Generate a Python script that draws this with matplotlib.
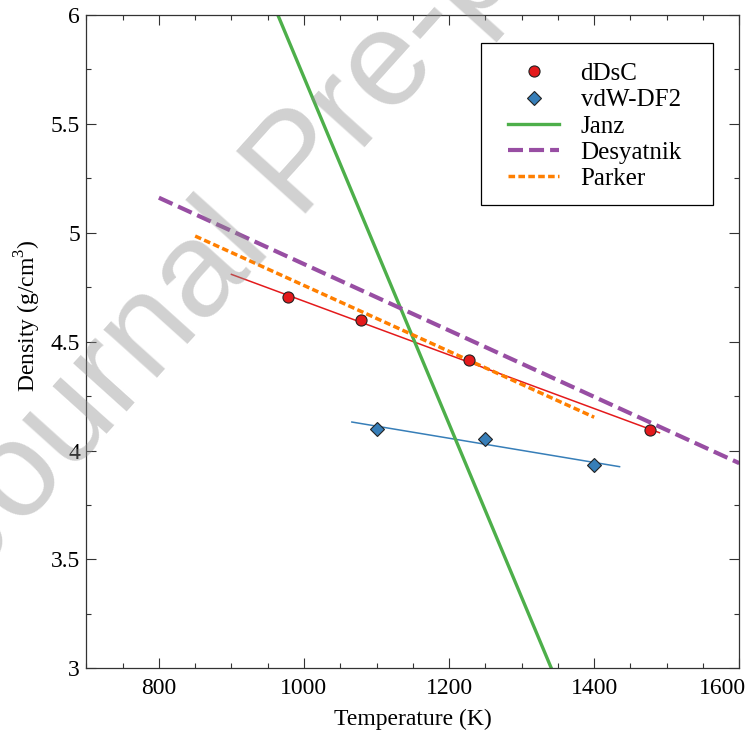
import matplotlib
matplotlib.use('Agg')
import matplotlib.pyplot as plt
import matplotlib.transforms as mtransforms
from matplotlib.patches import Rectangle
from matplotlib.ticker import MultipleLocator

plt.rcParams['font.family'] = ['Liberation Serif', 'DejaVu Serif']
plt.rcParams['mathtext.fontset'] = 'custom'
plt.rcParams['mathtext.rm'] = 'Liberation Serif'
plt.rcParams['font.size'] = 17

# DFT points
ddsc_T   = [978, 1078, 1227, 1477]
ddsc_rho = [4.703, 4.601, 4.414, 4.095]
ddsc_fit_T   = [900, 1490]
ddsc_fit_rho = [4.809, 4.082]

vdw_T   = [1100, 1250, 1400]
vdw_rho = [4.099, 4.052, 3.934]
vdw_fit_T   = [1066, 1435]
vdw_fit_rho = [4.131, 3.926]

# experimental fits
janz_T   = [964, 1341]
janz_rho = [6.0, 3.0]
desy_T   = [800, 1600]
desy_rho = [5.161, 3.942]
park_T   = [850, 1400]
park_rho = [4.985, 4.153]

red, blue, green, purple, orange = '#e41a1c', '#377eb8', '#4daf4a', '#984ea3', '#ff7f00'

fig = plt.figure(figsize=(7.5, 7.35), dpi=100)
ax = fig.add_axes([0.1151, 0.0907, 0.8706, 0.8889])

ax.plot(ddsc_fit_T, ddsc_fit_rho, color=red, lw=1.1)
ax.plot(vdw_fit_T, vdw_fit_rho, color=blue, lw=1.1)
ax.plot(ddsc_T, ddsc_rho, 'o', color=red, mec='#222222', mew=0.8, ms=8, label='dDsC', zorder=5)
ax.plot(vdw_T, vdw_rho, 'D', color=blue, mec='#222222', mew=0.8, ms=7, label='vdW-DF2', zorder=5)
ax.plot(janz_T, janz_rho, color=green, lw=2.4, label='Janz')
l, = ax.plot(desy_T, desy_rho, color=purple, lw=3.0, label='Desyatnik')
l.set_dashes((3.6, 1.45))
l, = ax.plot(park_T, park_rho, color=orange, lw=2.5, label='Parker')
l.set_dashes((1.9, 0.95))

ax.set_xlim(700, 1600)
ax.set_ylim(3, 6)
ax.xaxis.set_minor_locator(MultipleLocator(50))
ax.yaxis.set_minor_locator(MultipleLocator(0.25))
ax.set_xticks([800, 1000, 1200, 1400, 1600])
ax.set_xticklabels(['800', '1000', '1200', '1400', '1600'])
ax.set_yticks([3, 3.5, 4, 4.5, 5, 5.5, 6])
ax.set_yticklabels(['3', '3.5', '4', '4.5', '5', '5.5', '6'])
ax.tick_params(which='both', direction='in', top=True, right=True, width=0.8, color='#333333')
ax.tick_params(which='major', length=7.2)
ax.tick_params(which='minor', length=3.6)
ax.tick_params(axis='x', pad=7)
ax.tick_params(axis='y', pad=4.5)
for s in ax.spines.values():
    s.set_linewidth(0.9)
    s.set_color('#333333')

# last x label sits a bit left in the original
lab = ax.get_xticklabels()[-1]
lab.set_transform(lab.get_transform() + mtransforms.ScaledTranslation(-0.166, 0, fig.dpi_scale_trans))

ax.set_xlabel('Temperature (K)', labelpad=7)
ax.set_ylabel('Density (g/cm$^3$)')
ax.yaxis.set_label_coords(-0.067, 0.54)

# legend box drawn separately (wider padding at the sides than on top/bottom)
ax.add_patch(Rectangle((0.6044, 0.7092), 0.3553, 0.2475, transform=ax.transAxes,
                       facecolor='white', edgecolor='black', lw=0.9, zorder=6))
leg = ax.legend(loc='upper left', bbox_to_anchor=(0.6458, 0.927), borderaxespad=0,
                frameon=False, fontsize=18, handlelength=2.05, handletextpad=0.85,
                labelspacing=0.15, borderpad=0)
leg.set_zorder(7)

fig.text(0.4347, 0.7415, 'Journal Pre-proof', family='Liberation Sans', fontsize=98,
         color='0.55', alpha=0.4, rotation=48, rotation_mode='anchor',
         ha='center', va='baseline', zorder=10)

plt.savefig('out.png', dpi=100)
